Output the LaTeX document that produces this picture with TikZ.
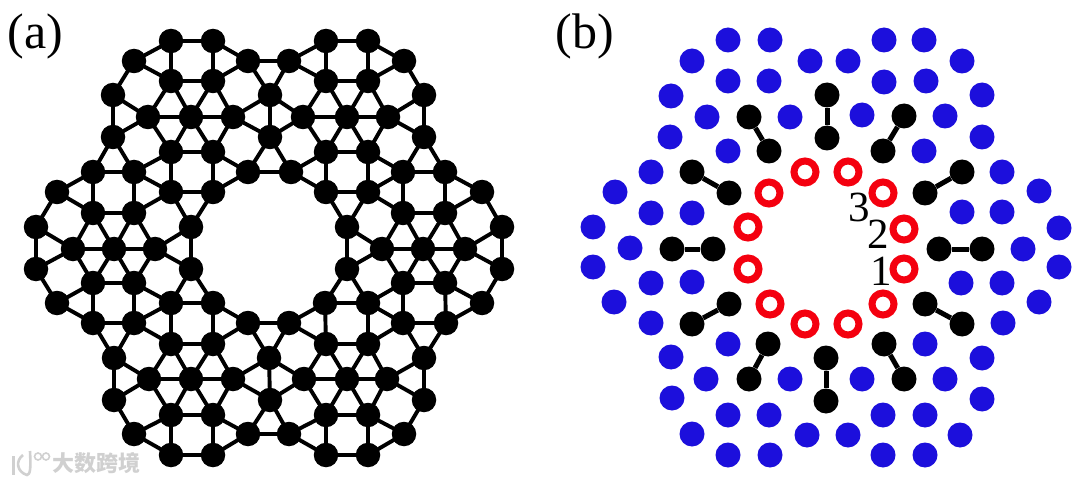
\documentclass[tikz,border=0pt]{standalone}
\usepackage{fontspec}
\setmainfont{Liberation Serif}
\newfontfamily\cjkwm{Noto Sans CJK SC}
\definecolor{dotblue}{HTML}{1C0FDC}
\definecolor{ringred}{HTML}{F4000F}
\definecolor{wmgray}{HTML}{D0D0D0}
\tikzset{
  lat/.style={circle,fill=black,draw=none,minimum size=24.5pt,inner sep=0pt},
  bond/.style={line width=3.9pt,black},
  site/.style={circle,fill=dotblue,draw=none,minimum size=25pt,inner sep=0pt},
  pairdot/.style={circle,fill=black,draw=none,minimum size=25pt,inner sep=0pt},
  pairbond/.style={line width=5pt,black},
  ring/.style={circle,draw=ringred,fill=white,line width=7pt,minimum size=22pt,inner sep=0pt},
  panel/.style={font=\fontsize{50}{50}\selectfont,inner sep=0pt},
  num/.style={font=\fontsize{43}{43}\selectfont,inner sep=0pt},
  wmtext/.style={font=\cjkwm\bfseries\fontsize{22}{22}\selectfont,text=wmgray,inner sep=0pt},
  wmline/.style={draw=wmgray,line width=2.6pt},
}
\begin{document}
\begin{tikzpicture}[x=1pt,y=-1pt]
\useasboundingbox (0,0) rectangle (1080,484);
% panel labels
\node[panel,anchor=center] (la) at (35.5,36) {(a)};
\node[panel,anchor=center] (lb) at (584.5,36) {(b)};
% panel (a) nodes
\foreach \x/\y in {
171/41,213/41,326/41,368/41,
134/61,248/61,289/61,404/61,
171/81,213/81,326/81,368/81,
113/95,270/95,424/95,
148/117,191/117,233/117,303/117,347/117,388/117,
113/137,270/137,424/137,
171/152,213/152,326/152,368/152,
93/172,134/172,248/172,291/172,403/172,445/172,
57/192,171/192,213/192,326/192,368/192,482/192,
93/213,134/213,403/213,445/213,
36/227,191/227,347/227,502/227,
73/249,114/249,155/249,382/249,423/249,465/249,
36/269,191/269,347/269,502/269,
93/283,134/283,403/283,445/283,
57/303,171/303,213/303,325/303,368/303,482/303,
93/323,134/323,248/323,289/323,403/323,446/323,
171/344,213/344,326/344,368/344,
114/358,269/358,424/358,
149/379,191/379,233/379,304/379,347/379,387/379,
114/400,270/400,424/400,
171/415,213/415,326/415,368/415,
134/434,248/434,289/434,404/434,
171/455,213/455,326/455,368/455}
  \node[lat] (p\x-\y) at (\x,\y) {};
% panel (a) bonds
\foreach \u/\v in {
171-41/213-41,326-41/368-41,248-61/289-61,171-81/213-81,326-81/368-81,
148-117/191-117,191-117/233-117,303-117/347-117,347-117/388-117,
171-152/213-152,326-152/368-152,93-172/134-172,248-172/291-172,403-172/445-172,
171-192/213-192,326-192/368-192,93-213/134-213,403-213/445-213,
73-249/114-249,114-249/155-249,382-249/423-249,423-249/465-249,
93-283/134-283,403-283/445-283,171-303/213-303,325-303/368-303,
248-323/289-323,93-323/134-323,403-323/446-323,171-344/213-344,326-344/368-344,
149-379/191-379,191-379/233-379,304-379/347-379,347-379/387-379,
171-415/213-415,326-415/368-415,248-434/289-434,171-455/213-455,326-455/368-455,
% upper left cluster
171-41/134-61,171-41/171-81,213-41/213-81,213-41/248-61,
134-61/171-81,134-61/113-95,213-81/248-61,248-61/270-95,
113-95/113-137,113-95/148-117,113-137/148-117,
171-81/148-117,171-81/191-117,213-81/191-117,213-81/233-117,
148-117/171-152,191-117/171-152,191-117/213-152,233-117/213-152,
233-117/270-95,233-117/270-137,270-95/270-137,
113-137/93-172,113-137/134-172,171-152/134-172,171-152/171-192,213-152/213-192,213-152/248-172,
213-192/248-172,248-172/270-137,
93-172/57-192,93-172/93-213,134-172/134-213,134-172/171-192,57-192/93-213,57-192/36-227,
134-213/171-192,171-192/191-227,213-192/191-227,
% upper right cluster
326-41/289-61,326-41/326-81,368-41/368-81,368-41/404-61,
289-61/326-81,289-61/270-95,368-81/404-61,404-61/424-95,
424-95/424-137,424-95/388-117,424-137/388-117,
326-81/303-117,326-81/347-117,368-81/347-117,368-81/388-117,
303-117/326-152,347-117/326-152,347-117/368-152,388-117/368-152,
303-117/270-95,303-117/270-137,
270-137/291-172,291-172/326-152,291-172/326-192,326-152/326-192,368-152/368-192,
368-152/403-172,368-192/403-172,368-192/403-213,403-172/403-213,445-172/445-213,
403-172/424-137,445-172/424-137,445-172/482-192,445-213/482-192,482-192/502-227,
326-192/347-227,368-192/347-227,
% middle row
36-227/36-269,36-227/73-249,36-269/73-249,93-213/73-249,93-213/114-249,134-213/114-249,134-213/155-249,
191-227/155-249,191-227/191-269,155-249/191-269,
347-227/347-269,347-227/382-249,347-269/382-249,403-213/382-249,403-213/423-249,445-213/423-249,445-213/465-249,
502-227/465-249,502-227/502-269,465-249/502-269,
73-249/93-283,114-249/93-283,114-249/134-283,155-249/134-283,
382-249/403-283,423-249/403-283,423-249/445-283,465-249/445-283,
% lower left cluster
36-269/57-303,57-303/93-283,57-303/93-323,93-283/93-323,134-283/134-323,134-283/171-303,134-323/171-303,
171-303/191-269,191-269/213-303,171-303/171-344,213-303/213-344,213-303/248-323,213-344/248-323,
134-323/114-358,93-323/114-358,134-323/171-344,114-358/114-400,114-358/149-379,114-400/149-379,
149-379/171-344,191-379/171-344,191-379/213-344,233-379/213-344,
149-379/171-415,191-379/171-415,191-379/213-415,233-379/213-415,
114-400/134-434,134-434/171-415,134-434/171-455,171-415/171-455,213-415/213-455,
213-455/248-434,213-415/248-434,
233-379/269-358,233-379/270-400,248-323/269-358,269-358/270-400,248-434/270-400,
% lower right cluster
269-358/289-323,269-358/304-379,270-400/304-379,270-400/289-434,
289-323/326-344,289-323/325-303,325-303/347-269,347-269/368-303,325-303/326-344,368-303/368-344,
326-344/304-379,326-344/347-379,368-344/347-379,368-344/387-379,
304-379/326-415,347-379/326-415,347-379/368-415,387-379/368-415,
289-434/326-415,289-434/326-455,326-415/326-455,368-415/368-455,
368-455/404-434,368-415/404-434,404-434/424-400,424-400/387-379,424-400/424-358,424-358/387-379,
424-358/403-323,424-358/446-323,368-344/403-323,368-303/403-323,368-303/403-283,403-283/403-323,
446-323/445-283,446-323/482-303,445-283/482-303,482-303/502-269}
  \draw[bond] (p\u.center) -- (p\v.center);
% panel (b) blue sites
\foreach \x/\y [count=\i] in {
728/40,770/40,884/40,924/40,692/61,810/61,848/61,962/61,
728/81,769/81,884/82,926/81,671/96,982/95,707/117,790/117,862/115,945/116,
670/137,982/137,728/151,924/151,651/172,1002/172,615/192,1039/191,
651/213,692/213,962/212,1002/212,593/227,1059/228,630/248,1023/249,
593/267,1059/267,651/283,692/282,961/283,1002/283,614/302,1039/302,
651/323,1003/323,728/344,925/344,671/357,982/358,706/379,790/379,862/379,945/379,
672/398,982/399,728/415,769/415,883/415,925/415,692/434,807/435,848/435,960/435,
728/455,770/455,883/455,925/455}
  \node[site] (s\i) at (\x,\y) {};
% panel (b) dimers
\foreach \ax/\ay/\bx/\by [count=\i] in {
749/117/769/151, 827/95/827/138, 904/116/883/151,
692/172/729/193, 962/172/925/193,
672/249/713/249, 939/249/982/249,
729/304/692/324, 925/304/962/324,
768/344/749/379, 826/358/826/401, 884/344/904/379}{
  \node[pairdot] (da\i) at (\ax,\ay) {};
  \node[pairdot] (db\i) at (\bx,\by) {};
  \draw[pairbond] (da\i) -- (db\i);
}
% panel (b) red rings
\foreach \x/\y [count=\i] in {
805/172,848/172,769/193,883/193,748/227,904/229,748/269,904/269,770/304,883/304,805/324,848/324}
  \node[ring] (r\i) at (\x,\y) {};
% numbers
\node[num] (n3) at (859,207) {3};
\node[num] (n2) at (878,234) {2};
\node[num] (n1) at (881,271) {1};
% watermark
\node[wmtext,anchor=west] (wm) at (52,463) {大数跨境};
\coordinate (w1) at (13.5,456);
\coordinate (w2) at (13.5,475);
\draw[wmline] (w1) -- (w2);
\draw[wmline] (23,455) .. controls (15,461) and (17,472) .. (27,475) .. controls (30,474) and (31,471) .. (30,451);
\draw[wmline,line width=1.6pt] (38,456.5) circle (3.5pt);
\draw[wmline,line width=1.6pt] (46,456.5) circle (3.5pt);
\end{tikzpicture}
\end{document}
